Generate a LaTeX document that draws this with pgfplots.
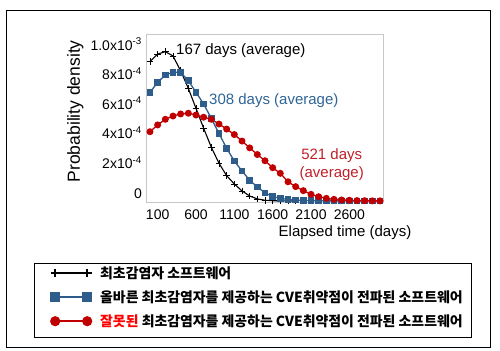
\documentclass[border=0pt]{standalone}
\usepackage{pgfplots}
\pgfplotsset{compat=1.18}
\usepackage{fontspec}
\setmainfont{Liberation Sans}
\newfontfamily\kr{Noto Sans CJK KR}
\definecolor{serblue}{RGB}{46,93,140}
\definecolor{serred}{RGB}{192,0,0}
\definecolor{txtblue}{RGB}{46,100,150}
\definecolor{txtred}{RGB}{192,32,40}
\definecolor{axframe}{RGB}{200,200,200}
\begin{document}
\begin{tikzpicture}
\useasboundingbox (0,0) rectangle (500bp,351bp);
\draw[line width=0.8bp] (6bp,4bp) rectangle (490bp,341bp);
\draw[line width=0.9bp] (34bp,14bp) rectangle (471bp,88bp);
\begin{axis}[
  at={(146bp,149bp)}, anchor=south west,
  scale only axis, width=237bp, height=168bp,
  xmin=-52, xmax=3039, ymin=-0.00000676, ymax=0.0011284,
  clip=false,
  axis line style={draw=axframe, line width=0.8bp},
  major tick length=0pt,
  scaled y ticks=false, scaled x ticks=false,
  xtick={100,600,1100,1600,2100,2600},
  xticklabels={100,600,1100,1600,2100,2600},
  ytick={0,0.0002,0.0004,0.0006,0.0008,0.001},
  yticklabels={0,2x10\textsuperscript{-4},4x10\textsuperscript{-4},6x10\textsuperscript{-4},8x10\textsuperscript{-4},1.0x10\textsuperscript{-3}},
  xticklabel style={font=\fontsize{14bp}{16bp}\selectfont, anchor=base, inner sep=0pt, yshift=-17bp},
  yticklabel style={font=\fontsize{14bp}{16bp}\selectfont, anchor=base east, inner sep=0pt, xshift=-4bp, yshift=3bp},
  xlabel={Elapsed time (days)},
  ylabel={Probability density},
  xlabel style={at={(axis description cs:0.8397,-0.2065)}, anchor=base, inner sep=0pt, font=\fontsize{15bp}{18bp}\selectfont},
  ylabel style={at={(axis description cs:-0.2785,0.54)}, anchor=base, inner sep=0pt, font=\fontsize{17.5bp}{20bp}\selectfont},
  legend style={at={(axis description cs:-0.4021,-0.375)}, anchor=north west, draw=none, fill=none, inner sep=0pt,
    row sep=8.25bp, column sep=8.7bp, font=\kr\bfseries\fontsize{13.9bp}{16bp}\selectfont,
    nodes={inner sep=0pt, text height=12.8bp, text depth=3bp}},
  legend cell align=left,
  legend image code/.code={\draw[#1, line width=1.5bp, mark size=4.3bp, mark options={line width=1.5bp}] plot coordinates {(0bp,0bp) (32bp,0bp)};},
]
\addplot[black, line width=1.1bp, mark=+, mark size=3.3bp, mark options={line width=0.8bp}] table {
x y
0 0.000941
100 0.000993
200 0.001009
300 0.000980
400 0.000880
500 0.000761
600 0.000626
700 0.000491
800 0.000363
900 0.000255
1000 0.000171
1100 0.000115
1200 0.000068
1300 0.000034
1400 0.000014
1500 0.000005
1600 0.000002
1700 0.000001
1800 0
1900 0
};
\addlegendentry{최초감염자 소프트웨어}
\addplot[serblue, line width=1.3bp, mark=square*, mark size=2.7bp] table {
x y
0 0.000734
100 0.000802
200 0.000851
300 0.000870
400 0.000870
500 0.000812
600 0.000735
700 0.000655
800 0.000559
900 0.000456
1000 0.000356
1100 0.000270
1200 0.000203
1300 0.000140
1400 0.000095
1500 0.000055
1600 0.000030
1700 0.000018
1800 0.000010
1900 0.000006
2000 0.000004
2100 0.000003
2200 0.000002
2300 0.000001
2400 0.000001
2500 0.000001
2600 0
2700 0
2800 0
2900 0
3000 0
};
\addlegendentry{올바른 최초감염자를 제공하는 CVE취약점이 전파된 소프트웨어}
\addplot[serred, line width=1.3bp, mark=*, mark size=2.8bp] table {
x y
0 0.000468
100 0.000514
200 0.000552
300 0.000574
400 0.000588
500 0.000593
600 0.000581
700 0.000566
800 0.000552
900 0.000520
1000 0.000486
1100 0.000449
1200 0.000405
1300 0.000359
1400 0.000314
1500 0.000272
1600 0.000225
1700 0.000187
1800 0.000130
1900 0.000097
2000 0.000070
2100 0.000045
2200 0.000029
2300 0.000018
2400 0.000011
2500 0.000007
2600 0.000005
2700 0.000003
2800 0.000002
2900 0.000001
3000 0.000001
};
\addlegendentry{\textcolor{red}{잘못된} 최초감염자를 제공하는 CVE취약점이 전파된 소프트웨어}
\end{axis}
\node[anchor=base west, inner sep=0pt, font=\fontsize{15bp}{18bp}\selectfont] at (176bp,296bp) {167 days (average)};
\node[anchor=base west, inner sep=0pt, text=txtblue, font=\fontsize{15bp}{18bp}\selectfont] at (209bp,246.7bp) {308 days (average)};
\node[anchor=base, inner sep=0pt, text=txtred, font=\fontsize{15bp}{18bp}\selectfont] at (331.7bp,191bp) {521 days};
\node[anchor=base, inner sep=0pt, text=txtred, font=\fontsize{15bp}{18bp}\selectfont] at (331.7bp,173.7bp) {(average)};
\end{tikzpicture}
\end{document}
